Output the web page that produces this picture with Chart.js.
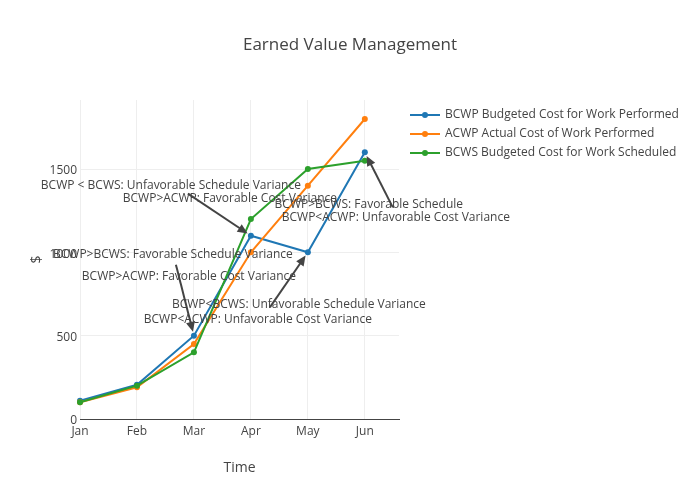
<!DOCTYPE html>
<html><head><meta charset="utf-8">
<script src="https://cdn.jsdelivr.net/npm/chart.js@4"></script>
<style>html,body{margin:0;padding:0;background:#fff}#wrap{width:700px;height:500px}</style>
</head><body><div id="wrap"><canvas id="c" width="700" height="500"></canvas></div>
<script>
// ---- data ----
const months = ['Jan', 'Feb', 'Mar', 'Apr', 'May', 'Jun'];
const bcwp = [110, 205, 500, 1100, 1000, 1600];
const acwp = [100, 190, 450, 1000, 1400, 1800];
const bcws = [100, 200, 400, 1200, 1500, 1550];
const yTicks = [0, 500, 1000, 1500];
const seriesNames = [
  'BCWP Budgeted Cost for Work Performed',
  'ACWP Actual Cost of Work Performed',
  'BCWS Budgeted Cost for Work Scheduled'
];
const titleText = 'Earned Value Management';
const xTitle = 'Time';
const yTitle = '$';
// annotation texts (each pointing at a BCWP month)
const annTargets = [3, 2, 4, 5];
const annTexts = [
  ['BCWP < BCWS: Unfavorable Schedule Variance', 'BCWP>ACWP: Favorable Cost Variance'],
  ['BCWP>BCWS: Favorable Schedule Variance', 'BCWP>ACWP: Favorable Cost Variance'],
  ['BCWP<BCWS: Unfavorable Schedule Variance', 'BCWP<ACWP: Unfavorable Cost Variance'],
  ['BCWP>BCWS: Favorable Schedule', 'BCWP<ACWP: Unfavorable Cost Variance']
];

// ---- styling / layout (pixel offsets relative to target point) ----
const colors = ['#1f77b4', '#ff7f0e', '#2ca02c'];
const FONT = '"Open Sans", "Noto Sans", sans-serif';
const TXT = '#444';
const annLayout = [
  { tail: [-63, -42], lines: [[-80, -50], [-21, -37]] },
  { tail: [-18, -71], lines: [[-21, -81], [-5, -59]] },
  { tail: [-38, 55], lines: [[-9, 52], [-50, 67]] },
  { tail: [28, 55], lines: [[4, 52], [31, 65]] }
];

const toXY = arr => arr.map((v, i) => ({ x: i, y: v }));

const extras = {
  id: 'extras',
  afterDraw(chart) {
    const ctx = chart.ctx;
    const xs = chart.scales.x, ys = chart.scales.y;
    const ca = chart.chartArea;
    ctx.save();
    // title
    ctx.fillStyle = TXT;
    ctx.font = '17px ' + FONT;
    ctx.textAlign = 'center';
    ctx.textBaseline = 'middle';
    ctx.fillText(titleText, 350, 45);
    // axis titles
    ctx.font = '14px ' + FONT;
    ctx.fillText(xTitle, (ca.left + ca.right) / 2, 468);
    ctx.save();
    ctx.translate(37, (ca.top + ca.bottom) / 2);
    ctx.rotate(-Math.PI / 2);
    ctx.fillText(yTitle, 0, 0);
    ctx.restore();
    // legend
    ctx.font = '12px ' + FONT;
    ctx.textAlign = 'left';
    chart.data.datasets.forEach((ds, i) => {
      const y = 115 + i * 19;
      ctx.strokeStyle = ds.borderColor;
      ctx.lineWidth = 2;
      ctx.beginPath(); ctx.moveTo(410, y); ctx.lineTo(440, y); ctx.stroke();
      ctx.fillStyle = ds.borderColor;
      ctx.beginPath(); ctx.arc(425, y, 3, 0, Math.PI * 2); ctx.fill();
      ctx.fillStyle = TXT;
      ctx.fillText(ds.label, 445, y);
    });
    // annotations
    annTargets.forEach((mi, k) => {
      const px = xs.getPixelForValue(mi);
      const py = ys.getPixelForValue(bcwp[mi]);
      const L = annLayout[k];
      const tx = px + L.tail[0], ty = py + L.tail[1];
      const dx = px - tx, dy = py - ty;
      const len = Math.hypot(dx, dy);
      const ux = dx / len, uy = dy / len;
      const standoff = 4;
      const hx = px - ux * standoff, hy = py - uy * standoff;
      const headLen = 10, headW = 4.5;
      const bx = hx - ux * headLen, by = hy - uy * headLen;
      ctx.strokeStyle = '#444';
      ctx.fillStyle = '#444';
      ctx.lineWidth = 2;
      ctx.beginPath(); ctx.moveTo(tx, ty); ctx.lineTo(bx + ux * 2, by + uy * 2); ctx.stroke();
      ctx.beginPath();
      ctx.moveTo(hx, hy);
      ctx.lineTo(bx - uy * headW, by + ux * headW);
      ctx.lineTo(bx + uy * headW, by - ux * headW);
      ctx.closePath(); ctx.fill();
      ctx.fillStyle = TXT;
      ctx.font = '12px ' + FONT;
      ctx.textAlign = 'center';
      ctx.textBaseline = 'middle';
      annTexts[k].forEach((t, j) => {
        ctx.fillText(t, px + L.lines[j][0], py + L.lines[j][1]);
      });
    });
    ctx.restore();
  }
};

const mkDs = (label, data, color, order) => ({
  label, data: toXY(data), borderColor: color, backgroundColor: color,
  borderWidth: 2, pointRadius: 3, pointHoverRadius: 3, pointBorderWidth: 0,
  tension: 0, order, clip: 6
});

new Chart(document.getElementById('c'), {
  type: 'line',
  data: {
    datasets: [
      mkDs(seriesNames[0], bcwp, colors[0], 2),
      mkDs(seriesNames[1], acwp, colors[1], 1),
      mkDs(seriesNames[2], bcws, colors[2], 0)
    ]
  },
  options: {
    responsive: false,
    animation: false,
    devicePixelRatio: 1,
    layout: { padding: { left: 0, top: 100, right: 301, bottom: 0 } },
    plugins: { legend: { display: false }, title: { display: false }, tooltip: { enabled: false } },
    scales: {
      x: {
        type: 'linear', min: 0, max: 5.6,
        afterBuildTicks: s => { s.ticks = months.map((m, i) => ({ value: i })); },
        afterFit: s => { s.height = 81; },
        ticks: {
          callback: v => months[v], color: TXT, font: { family: FONT, size: 12 },
          padding: 5, maxRotation: 0, autoSkip: false
        },
        grid: { color: '#eeeeee', drawTicks: false, lineWidth: 1 },
        border: { display: true, color: '#444', width: 1 }
      },
      y: {
        min: 0, max: 1914,
        afterBuildTicks: s => { s.ticks = yTicks.map(v => ({ value: v })); },
        afterFit: s => { s.width = 80; },
        ticks: { callback: v => String(v), color: TXT, font: { family: FONT, size: 12 }, padding: 3, labelOffset: 2 },
        grid: { color: c => (c.tick && c.tick.value === 0) ? 'rgba(0,0,0,0)' : '#eeeeee', drawTicks: false },
        border: { display: false }
      }
    }
  },
  plugins: [extras]
});
</script>
</body></html>
